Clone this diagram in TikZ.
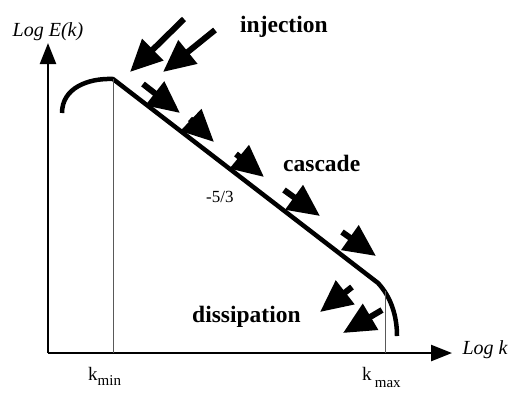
\documentclass[tikz,border=0pt]{standalone}
\usepackage{fontspec}
\setmainfont{Liberation Serif}
\usetikzlibrary{arrows.meta}

\begin{document}
\begin{tikzpicture}[x=1pt,y=-1pt,
    axis/.style={line width=2.4pt,-{Triangle[length=21pt,width=16pt]}},
    fat/.style={line width=6pt,-{Triangle[length=32pt,width=29pt]}},
    bold label/.style={font=\fontsize{23.5}{26}\selectfont\bfseries,anchor=base west,inner sep=0pt}]
  \useasboundingbox (0,0) rectangle (511,392);
  % Axes
  \coordinate (o) at (48,353);
  \coordinate (ytop) at (48,43);
  \coordinate (xend) at (452,353);
  \draw[axis] (o) -- (ytop);
  \draw[axis] (o) -- (xend);
  \node[font=\fontsize{20}{22}\selectfont\itshape] (ylbl) at (48,32) {Log E(k)};
  \node[font=\fontsize{20}{22}\selectfont\itshape,anchor=west] (xlbl) at (459,350) {Log k};
  % Spectrum
  \coordinate (peak) at (113,79);
  \coordinate (knee) at (378,283);
  \draw[line width=4.5pt] (62,113) .. controls (62,88) and (88,78) .. (peak)
    -- (knee) .. controls (391,297) and (397,316) .. (397,336);
  % Cut-off lines
  \draw[gray!70!black,line width=0.8pt] (peak) -- (peak |- o);
  \draw[gray!70!black,line width=0.8pt] (385,291) -- (385,353);
  \node[font=\fontsize{19}{20}\selectfont,anchor=base west,inner sep=0pt] (kmin) at (88,380)
    {k\raisebox{-5pt}{\fontsize{15}{15}\selectfont min}};
  \node[font=\fontsize{19}{20}\selectfont,anchor=base west,inner sep=0pt] (kmax) at (362,380)
    {k\,\raisebox{-7pt}{\fontsize{15}{15}\selectfont max}};
  % Injection
  \draw[fat] (184,19) -- (130,72);
  \draw[fat] (215,30) -- (163,72);
  \node[bold label] (inj) at (240,32) {injection};
  % Cascade
  \foreach \ax/\ay/\bx/\by in {143/84/180/113, 190/119/214/142, 236/154/264/177,
                               284/190/320/216, 342/232/376/256}
    \draw[fat] (\ax,\ay) -- (\bx,\by);
  \node[bold label] (casc) at (283,171) {cascade};
  \node[font=\fontsize{17}{18}\selectfont,anchor=base west,inner sep=0pt] (slope) at (206,202) {-5/3};
  % Dissipation
  \draw[fat] (352,287) -- (320,312);
  \draw[fat] (382,310) -- (343,333);
  \node[bold label] (diss) at (192,322) {dissipation};
\end{tikzpicture}
\end{document}
